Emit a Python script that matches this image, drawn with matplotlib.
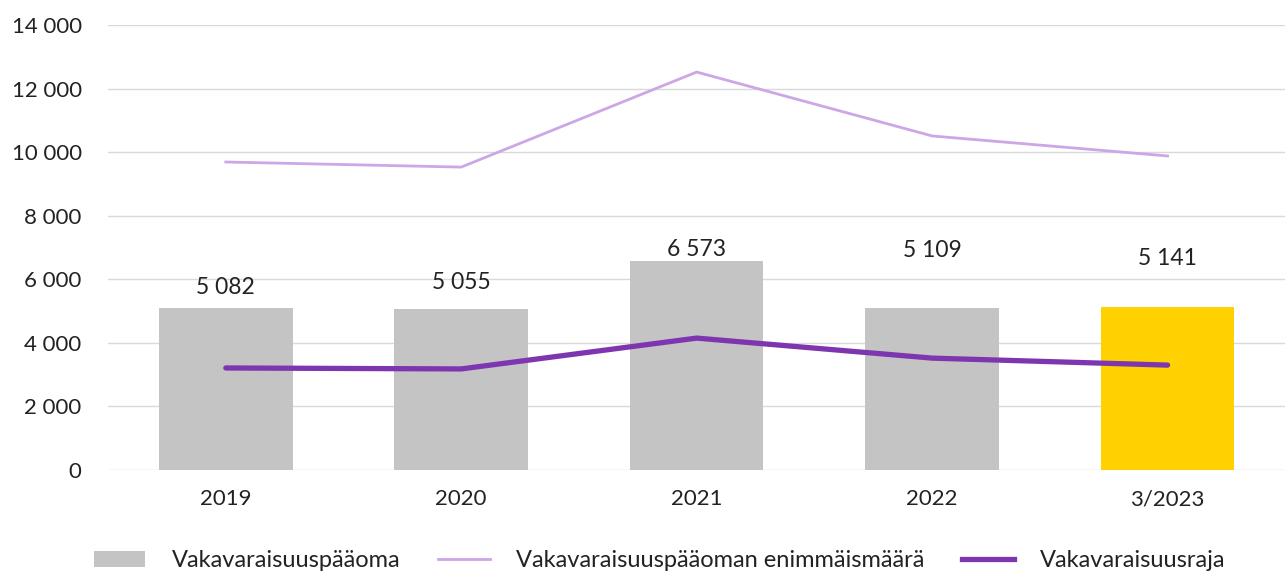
import matplotlib.pyplot as plt
import numpy as np
from matplotlib.patches import Patch
from matplotlib.lines import Line2D
from matplotlib.ticker import FuncFormatter

plt.rcParams['font.family'] = ['Lato', 'DejaVu Sans']

# --- Data ---
categories = ["2019", "2020", "2021", "2022", "3/2023"]
capital = [5082, 5055, 6573, 5109, 5141]          # Vakavaraisuuspääoma
capital_max = [9690, 9530, 12520, 10510, 9880]    # Vakavaraisuuspääoman enimmäismäärä
solvency_limit = [3210, 3180, 4150, 3520, 3300]   # Vakavaraisuusraja
label_heights = [5730, 5910, 6950, 6920, 6640]    # where the value labels sit

def fmt(v, pos=None):
    return f"{int(v):,}".replace(",", " ")

bar_colors = ["#c4c4c4"] * 4 + ["#ffd100"]
light = "#cda6e6"
dark = "#7d36b0"
txt = "#222222"

fig = plt.figure(figsize=(12.88, 5.75), dpi=100)
ax = fig.add_axes([0.0839, 0.1826, 0.914, 0.7739])

x = np.arange(len(categories))
ax.bar(x, capital, width=0.567, color=bar_colors, zorder=2)
ax.plot(x, capital_max, color=light, lw=2.0, zorder=3)
ax.plot(x, solvency_limit, color=dark, lw=3.8, solid_capstyle='round', zorder=3)

for xi, v, h in zip(x, capital, label_heights):
    ax.text(xi, h, fmt(v), ha='center', va='center', fontsize=16.5, color=txt)

ax.set_xlim(-0.5, len(categories) - 0.5)
ax.set_ylim(0, 14000)
ax.set_yticks(np.arange(0, 14001, 2000))
ax.yaxis.set_major_formatter(FuncFormatter(fmt))
ax.set_xticks(x)
ax.set_xticklabels(categories)
ax.tick_params(axis='both', length=0, labelsize=16, colors=txt)
ax.tick_params(axis='x', pad=14)
ax.tick_params(axis='y', pad=19)
ax.grid(axis='y', color='#d9d9d9', lw=1.0, zorder=0)
ax.set_axisbelow(True)
for s in ax.spines.values():
    s.set_visible(False)

handles = [
    Patch(facecolor="#c4c4c4", label="Vakavaraisuuspääoma"),
    Line2D([0], [0], color=light, lw=2.0, label="Vakavaraisuuspääoman enimmäismäärä"),
    Line2D([0], [0], color=dark, lw=3.8, label="Vakavaraisuusraja"),
]
fig.legend(handles=handles, loc='center', bbox_to_anchor=(0.512, 0.025), ncol=3,
           frameon=False, fontsize=17, handlelength=2.2, handletextpad=1.1,
           columnspacing=1.6, labelcolor=txt)

fig.savefig("out.png", dpi=100)
